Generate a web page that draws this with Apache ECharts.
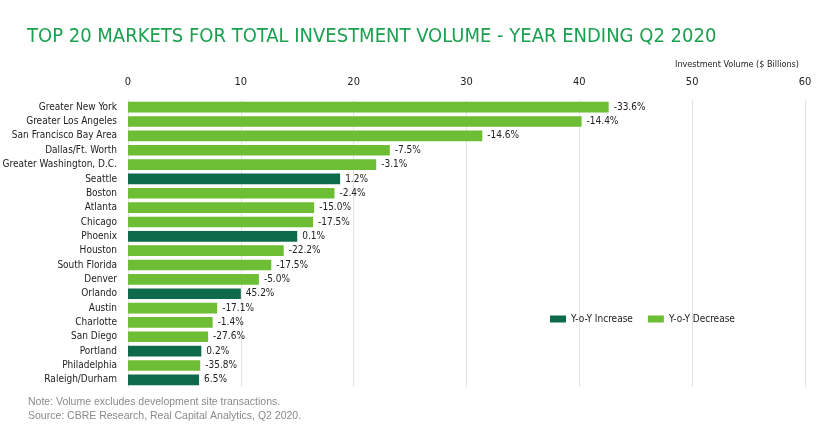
<!DOCTYPE html>
<html><head><meta charset="utf-8">
<script src="https://cdn.jsdelivr.net/npm/echarts@6/dist/echarts.min.js"></script>
<style>html,body{margin:0;padding:0;background:#fff}#c{width:830px;height:427px}</style>
</head><body><div id="c"></div>
<script>
const markets = ["Greater New York","Greater Los Angeles","San Francisco Bay Area","Dallas/Ft. Worth","Greater Washington, D.C.","Seattle","Boston","Atlanta","Chicago","Phoenix","Houston","South Florida","Denver","Orlando","Austin","Charlotte","San Diego","Portland","Philadelphia","Raleigh/Durham"];
const volumes = [42.6,40.2,31.4,23.2,22.0,18.8,18.3,16.5,16.4,15.0,13.8,12.7,11.6,10.0,7.9,7.5,7.1,6.5,6.4,6.3];
const yoyChange = [-33.6,-14.4,-14.6,-7.5,-3.1,1.2,-2.4,-15.0,-17.5,0.1,-22.2,-17.5,-5.0,45.2,-17.1,-1.4,-27.6,0.2,-35.8,6.5];
const xTicks = [0,10,20,30,40,50,60];

const FONT = '"DejaVu Sans Condensed","Liberation Sans Narrow",sans-serif';
const incData = volumes.map((v,i)=> yoyChange[i] > 0 ? v : '-');
const decData = volumes.map((v,i)=> yoyChange[i] > 0 ? '-' : v);
const lbl = {
  show:true, position:'right', distance:5, color:'#222', fontFamily:FONT, fontSize:10,
  formatter: p => yoyChange[p.dataIndex].toFixed(1) + '%'
};
const chart = echarts.init(document.getElementById('c'));
chart.setOption({
  animation:false,
  title:[
    {text:'TOP 20 MARKETS FOR TOTAL INVESTMENT VOLUME - YEAR ENDING Q2 2020', left:22, top:22,
     textStyle:{color:'#1aa04f', fontFamily:FONT, fontSize:20, fontWeight:'normal'}},
    {text:'Investment Volume ($ Billions)', right:26, top:55,
     textStyle:{color:'#222', fontFamily:FONT, fontSize:9, fontWeight:'normal'}},
    {text:'Note: Volume excludes development site transactions.\nSource: CBRE Research, Real Capital Analytics, Q2 2020.', left:23, top:390,
     textStyle:{color:'#8a8a8a', fontFamily:'"Liberation Sans",sans-serif', fontSize:10.5, fontWeight:'normal', lineHeight:14}}
  ],
  legend:{
    left:545, top:309, itemWidth:16, itemHeight:7, itemGap:15,
    icon:'rect',
    textStyle:{color:'#222', fontFamily:FONT, fontSize:10},
    data:['Y-o-Y Increase','Y-o-Y Decrease']
  },
  grid:{left:128, right:25, top:100, height:287, containLabel:false, outerBoundsMode:'none'},
  xAxis:{
    type:'value', position:'top', min:xTicks[0], max:xTicks[xTicks.length-1], interval:10,
    axisLine:{show:false}, axisTick:{show:false},
    axisLabel:{color:'#222', fontFamily:FONT, fontSize:11, margin:12},
    splitLine:{show:true, lineStyle:{color:'#e3e3e3', width:1}}
  },
  yAxis:{
    type:'category', data:markets, inverse:true,
    axisLine:{show:true, lineStyle:{color:'#e3e3e3'}}, axisTick:{show:false},
    axisLabel:{color:'#222', fontFamily:FONT, fontSize:10, margin:11}
  },
  series:[
    {name:'Y-o-Y Increase', type:'bar', stack:'v', data:incData, barWidth:'74%',
     itemStyle:{color:'#0d6b4b'}, label:lbl},
    {name:'Y-o-Y Decrease', type:'bar', stack:'v', data:decData, barWidth:'74%',
     itemStyle:{color:'#6dbd35'}, label:lbl}
  ]
});
</script></body></html>
